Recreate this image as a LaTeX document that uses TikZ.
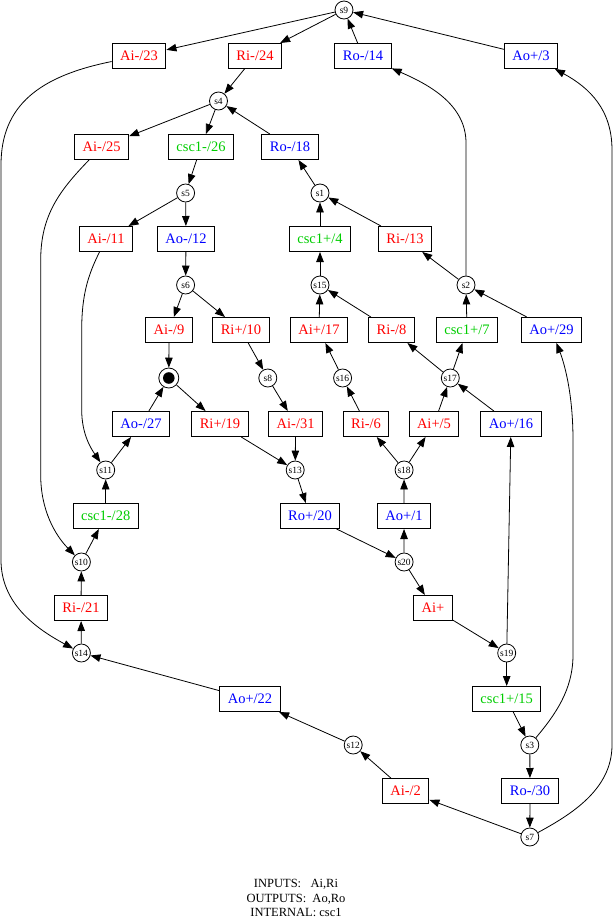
\documentclass[tikz,border=0pt]{standalone}
\usepackage{fontspec}
\setmainfont{Liberation Serif}
\usetikzlibrary{arrows.meta}
\definecolor{sgreen}{RGB}{0,205,0}

\begin{document}
\begin{tikzpicture}[x=1pt,y=-1pt,
    place/.style={draw,circle,line width=0.8pt,minimum size=18pt,inner sep=0.5pt,font=\fontsize{9.5}{10}\selectfont},
    trans/.style={draw,rectangle,line width=1pt,minimum height=25pt,inner xsep=8pt,font=\fontsize{14.5}{16}\selectfont},
    arc/.style={-{Triangle[length=10pt,width=7.5pt]},line width=0.8pt}]
\useasboundingbox (0,0) rectangle (614,919);
\foreach \n/\x/\y in {s9/344/10,s4/218.5/101,s5/185.6/193,s1/320/193,s6/185.6/285,s15/320/285,s2/466/285,
    s8/267.8/378,s16/342.6/378,s17/450.3/378,s11/105.7/470,s13/295.2/470,s18/404.1/470,s10/81.4/562,
    s20/404.1/562,s14/81.4/653,s19/506.7/653,s12/353.2/745,s3/529.8/745,s7/529.8/837}
    \node[place] (\n) at (\x,\y) {\n};
\node[place,minimum size=20pt] (p0) at (168.8,378) {};
\fill (p0.center) circle (5.8pt);
\foreach \n/\x/\y/\c/\t in {ai23/139/56/red/{Ai-/23},ri24/255/56/red/{Ri-/24},ro14/363/56/blue/{Ro-/14},
    ao3/531/56/blue/{Ao+/3},ai25/101.6/147/red/{Ai-/25},csc26/201/147/sgreen/{csc1-/26},ro18/290/147/blue/{Ro-/18},
    ai11/106/239/red/{Ai-/11},ao12/186/239/blue/{Ao-/12},csc4/320/239/sgreen/{csc1+/4},ri13/405/239/red/{Ri-/13},
    ai9/169/330/red/{Ai-/9},ri10/241/330/red/{Ri+/10},ai17/319/330/red/{Ai+/17},ri8/391.5/330/red/{Ri-/8},
    csc7/467/330/sgreen/{csc1+/7},ao29/551.5/330/blue/{Ao+/29},ao27/141/424/blue/{Ao-/27},ri19/220/424/red/{Ri+/19},
    ai31/295.6/424/red/{Ai-/31},ri6/366/424/red/{Ri-/6},ai5/434/424/red/{Ai+/5},ao16/511/424/blue/{Ao+/16},
    csc28/105.7/516/sgreen/{csc1-/28},ro20/310/516/blue/{Ro+/20},ao1/404/516/blue/{Ao+/1},ri21/81/608/red/{Ri-/21},
    ai0/433/608/red/{Ai+},ao22/250/699/blue/{Ao+/22},csc15/506.7/699/sgreen/{csc1+/15},ai2/405.6/791/red/{Ai-/2},
    ro30/530/791/blue/{Ro-/30}}
    \node[trans,text=\c] (\n) at (\x,\y) {\t};
\foreach \a/\b in {s9/ai23,s9/ri24,ro14/s9,ao3/s9,ri24/s4,s4/ai25,s4/csc26,ro18/s4,csc26/s5,s1/ro18,
    s5/ai11,s5/ao12,csc4/s1,ri13/s1,ao12/s6,s15/csc4,s2/ri13,s6/ai9,s6/ri10,ai17/s15,ri8/s15,csc7/s2,
    ao29/s2,ai9/p0,ri10/s8,s16/ai17,s17/ri8,s17/csc7,p0/ri19,ao27/p0,s8/ai31,ri6/s16,ai5/s17,ao16/s17,
    s18/ri6,s18/ai5,s19/ao16,s11/ao27,ri19/s13,ai31/s13,ao1/s18,csc28/s11,s13/ro20,s20/ao1,s10/csc28,
    ro20/s20,s20/ai0,ri21/s10,s14/ri21,ai0/s19,ao22/s14,s19/csc15,s12/ao22,csc15/s3,ai2/s12,s3/ro30,
    ro30/s7,s7/ai2}
    \draw[arc] (\a) -- (\b);
\draw[arc] (ai23) .. controls (40,76) and (1,105) .. (1,165) -- (1,560) .. controls (1,603) and (35,628) .. (s14);
\draw[arc] (ai25) .. controls (60,190) and (40.7,215) .. (40.7,260) -- (40.7,475) .. controls (40.7,510) and (55,535) .. (s10);
\draw[arc] (ai11) .. controls (88,275) and (81.7,295) .. (81.7,330) -- (81.7,410) .. controls (81.7,435) and (92,450) .. (s11);
\draw[arc] (s2) -- (466,143) .. controls (466,105) and (430,85) .. (ro14);
\draw[arc] (s3) .. controls (555,715) and (573,690) .. (573,655) -- (573,440) .. controls (573,390) and (563,360) .. (ao29);
\draw[arc] (s7) .. controls (570,815) and (612,790) .. (612,745) -- (612,150) .. controls (612,110) and (590,88) .. (ao3);
\node[align=center,inner sep=0pt,font=\fontsize{12.5}{14.6}\selectfont] (legend) at (296,898) {INPUTS:\ \ \ Ai,Ri\\OUTPUTS:\ \ Ao,Ro\\INTERNAL: csc1};
\end{tikzpicture}
\end{document}
